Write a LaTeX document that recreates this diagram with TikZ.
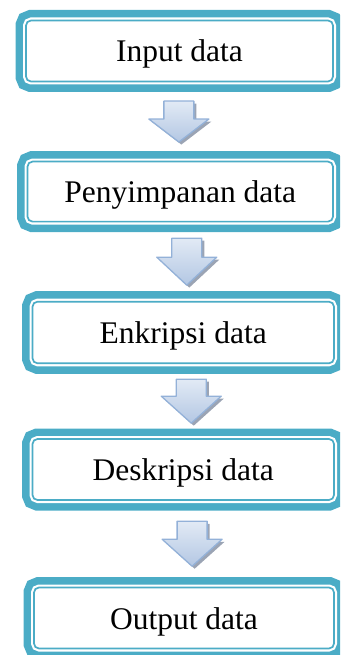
\documentclass[tikz,border=0pt]{standalone}
\usepackage{fontspec}
\setmainfont{Liberation Serif}
\usetikzlibrary{calc}
\definecolor{frameteal}{HTML}{4BACC6}
\definecolor{arrowtop}{HTML}{E2EAF5}
\definecolor{arrowbot}{HTML}{B3C7E3}
\definecolor{arrowline}{HTML}{93B1D8}
\definecolor{arrowshade}{HTML}{9BA4B4}
\tikzset{
  stepbox/.style={%
    rounded corners=5pt,
    fill=white,draw=frameteal,line width=1.7pt,
    preaction={draw=frameteal,line width=21pt},
    preaction={draw=white,line width=6pt},
    minimum width=#1,
    minimum height=61pt,
    inner sep=0pt,
    text height=22pt,text depth=0pt,
    font=\fontsize{31.5}{36}\selectfont,
  },
  stepbox/.default=305pt,
  arrowbody/.style={%
    top color=arrowtop,bottom color=arrowbot,
    draw=arrowline,line width=1.3pt,line join=round,
  },
  arrowshadow/.style={%
    fill=arrowshade,
  },
  pics/downarrow/.style 2 args={%
    code={%
      \foreach \off/\look in {2.5/arrowshadow,0/arrowbody}
        \path[\look,shift={(\off,\off)}]
          (-15,{-#1/2}) -- (15,{-#1/2}) -- (15,{#1/2-#2}) -- (30,{#1/2-#2})
          -- (0,{#1/2}) -- (-30,{#1/2-#2}) -- (-15,{#1/2-#2}) -- cycle;
    }
  }
}
\begin{document}
\begin{tikzpicture}[x=1pt,y=-1pt]
\useasboundingbox (0,0) rectangle (340,655);
\clip (0,0) rectangle (340,655);
% steps
\node[stepbox=307pt] (input) at (179.5,51) {Input data};
\node[stepbox=305.5pt,minimum height=60pt] (store) at (180.25,191.6) {Penyimpanan data};
\node[stepbox=301.5pt,minimum height=61.6pt] (encrypt) at (183.25,332.5) {Enkripsi data};
\node[stepbox=301.5pt] (decrypt) at (183.25,469.5) {Deskripsi data};
\node[stepbox=300pt] (output) at (184,618) {Output data};
% block arrows between the steps
\pic (a1) at ($(input.south)!0.5!(store.north)+(-1,0)$) {downarrow={41}{23}};
\pic (a2) at ($(store.south)!0.5!(encrypt.north)+(5,0)$) {downarrow={47}{28}};
\pic (a3) at ($(encrypt.south)!0.5!(decrypt.north)+(8,0)$) {downarrow={44}{27}};
\pic (a4) at ($(decrypt.south)!0.5!(output.north)+(8.5,0)$) {downarrow={45}{27}};
\end{tikzpicture}
\end{document}
